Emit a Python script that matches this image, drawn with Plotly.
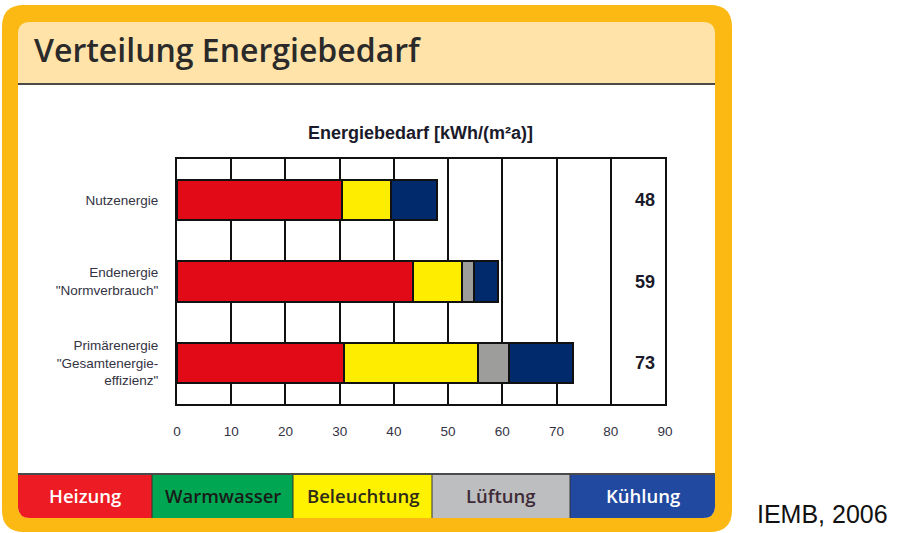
import plotly.graph_objects as go

# ---------------- data ----------------
categories = ["Nutzenergie", "Endenergie<br>\"Normverbrauch\"",
              "Primärenergie<br>\"Gesamtenergie-<br>effizienz\""]
heizung = [30.4, 43.5, 30.8]
warmwasser = [None, None, None]
beleuchtung = [9.1, 9.0, 24.8]
lueftung = [None, 2.3, 5.7]
kuehlung = [8.5, 4.4, 11.8]
x_ticks = [0, 10, 20, 30, 40, 50, 60, 70, 80, 90]

series_names = ["Heizung", "Warmwasser", "Beleuchtung", "Lüftung", "Kühlung"]
bar_colors = ["#E30A18", "#00A651", "#FFED00", "#9D9D9C", "#002A6C"]
legend_colors = ["#ED1C24", "#00A651", "#FFF200", "#BCBEC0", "#2249A0"]
legend_text_colors = ["#FFFFFF", "#1A1A1A", "#2E2A1A", "#3E2A36", "#FFFFFF"]

W, H = 922, 533


def fx(x):
    return x / W


def fy(y):
    return 1 - y / H


def P(x, y):
    return f"{fx(x):.5f},{fy(y):.5f}"


def rrect(x0, y0, x1, y1, rtl=0, rtr=0, rbr=0, rbl=0):
    return (f"M {P(x0 + rtl, y0)} L {P(x1 - rtr, y0)} Q {P(x1, y0)} {P(x1, y0 + rtr)} "
            f"L {P(x1, y1 - rbr)} Q {P(x1, y1)} {P(x1 - rbr, y1)} "
            f"L {P(x0 + rbl, y1)} Q {P(x0, y1)} {P(x0, y1 - rbl)} "
            f"L {P(x0, y0 + rtl)} Q {P(x0, y0)} {P(x0 + rtl, y0)} Z")


fig = go.Figure()
all_series = [heizung, warmwasser, beleuchtung, lueftung, kuehlung]
for name, vals, col in zip(series_names, all_series, bar_colors):
    fig.add_trace(go.Bar(
        y=categories, x=vals, name=name, orientation="h",
        marker=dict(color=col, line=dict(color="#111111", width=2)),
        width=0.49, showlegend=False, hoverinfo="x+name"))

totals = []
for i in range(len(categories)):
    totals.append(sum(v[i] for v in all_series if v[i] is not None))

shapes = []
# orange frame
shapes.append(dict(type="path", xref="paper", yref="paper", layer="below",
                   path=rrect(2, 5, 732, 532, 22, 22, 22, 22),
                   fillcolor="#FDB913", line=dict(width=0)))
# beige header / inner area
shapes.append(dict(type="path", xref="paper", yref="paper", layer="below",
                   path=rrect(18, 22, 715, 518, 12, 12, 12, 12),
                   fillcolor="#FFE3A9", line=dict(width=0)))
# white body
shapes.append(dict(type="rect", xref="paper", yref="paper", layer="below",
                   x0=fx(18), x1=fx(715), y0=fy(474), y1=fy(84),
                   fillcolor="#FFFFFF", line=dict(width=0)))
# legend boxes
edges = [18, 152, 293, 432, 570, 715]
for i, col in enumerate(legend_colors):
    x0, x1 = edges[i], edges[i + 1]
    rbl = 12 if i == 0 else 0
    rbr = 12 if i == len(legend_colors) - 1 else 0
    shapes.append(dict(type="path", xref="paper", yref="paper", layer="below",
                       path=rrect(x0, 474, x1, 518, 0, 0, rbr, rbl),
                       fillcolor=col, line=dict(width=0)))
    if 0 < i:
        shapes.append(dict(type="line", xref="paper", yref="paper", layer="below",
                           x0=fx(x0), x1=fx(x0), y0=fy(518), y1=fy(474),
                           line=dict(color="#333333", width=1)))
# dark separator lines
for yy in (84, 474):
    shapes.append(dict(type="line", xref="paper", yref="paper", layer="below",
                       x0=fx(18), x1=fx(715), y0=fy(yy), y1=fy(yy),
                       line=dict(color="#4A4A4A", width=2)))

annotations = []
annotations.append(dict(text="<b>Energiebedarf [kWh/(m²a)]</b>", xref="paper", yref="paper",
                        x=fx(420), y=fy(133), showarrow=False, xanchor="center",
                        yanchor="middle",
                        font=dict(family="Liberation Sans", size=18, color="#1A1A2A")))
for cat, tot in zip(categories, totals):
    annotations.append(dict(text=f"<b>{round(tot)}</b>", xref="x", yref="y",
                            x=86.4, y=cat, showarrow=False, xanchor="center",
                            yanchor="middle",
                            font=dict(family="Liberation Sans", size=18, color="#1A1A2A")))
for i, name in enumerate(series_names):
    cx = (edges[i] + edges[i + 1]) / 2
    annotations.append(dict(text=name, xref="paper", yref="paper",
                            x=fx(cx), y=fy(495), showarrow=False,
                            xanchor="center", yanchor="middle",
                            font=dict(family="Open Sans", size=18.5, weight=600,
                                      color=legend_text_colors[i])))
annotations.append(dict(text="IEMB, 2006", xref="paper", yref="paper",
                        x=fx(755), y=fy(514), showarrow=False,
                        xanchor="left", yanchor="middle",
                        font=dict(family="Liberation Sans", size=25, color="#111111")))

fig.update_layout(
    width=W, height=H, autosize=False,
    margin=dict(l=0, r=0, t=0, b=0, pad=0, autoexpand=False),
    paper_bgcolor="#FFFFFF", plot_bgcolor="rgba(0,0,0,0)",
    barmode="stack", bargap=0,
    title=dict(text="Verteilung Energiebedarf", x=fx(34), y=fy(51),
               xref="paper", yref="paper", xanchor="left", yanchor="middle",
               automargin=False,
               font=dict(family="Open Sans", size=32, weight=600, color="#2A2A2A")),
    shapes=shapes, annotations=annotations,
    xaxis=dict(domain=[fx(177), fx(665)], range=[0, 90], tickvals=x_ticks,
               automargin=False,
               showgrid=True, gridcolor="#111111", gridwidth=2,
               showline=True, mirror=True, linecolor="#111111", linewidth=2,
               zeroline=False, ticks="", ticklabelstandoff=14,
               tickfont=dict(family="Liberation Sans", size=13.5, color="#333344")),
    yaxis=dict(domain=[fy(404), fy(159)], range=[2.5, -0.5], automargin=False,
               categoryorder="array", categoryarray=categories,
               showgrid=False, showline=True, mirror=True, linecolor="#111111",
               linewidth=2, ticks="", ticklabelstandoff=14,
               tickfont=dict(family="Liberation Sans", size=13.5, color="#333344")),
)

fig.write_html("out.html",
               config={"displayModeBar": False},
               post_script="document.body.style.margin='0px';"
                           "document.body.style.overflow='hidden';")
